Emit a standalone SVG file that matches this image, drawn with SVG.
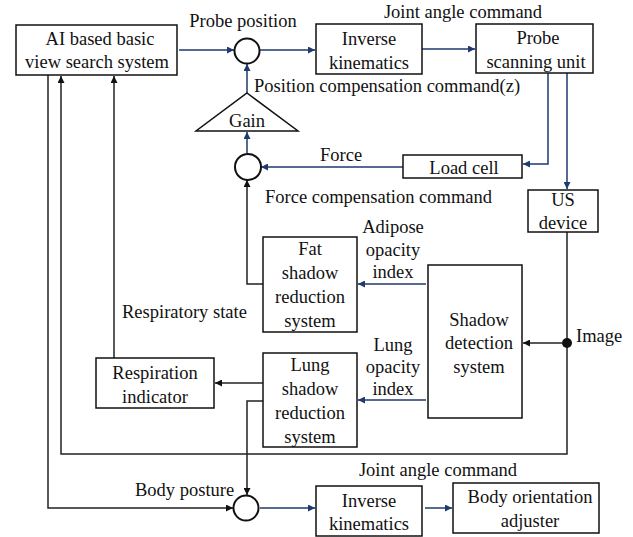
<svg xmlns="http://www.w3.org/2000/svg" width="633" height="537" viewBox="0 0 633 537">
<style>
text{font-family:"Liberation Serif","Times New Roman",serif;font-size:18.5px;fill:#111}
.m{text-anchor:middle}
.box{fill:#fff;stroke:#111;stroke-width:1.5}
.sum{fill:#fff;stroke:#111;stroke-width:2}
.n{fill:none;stroke:#1f3a6e;stroke-width:1.5}
.k{fill:none;stroke:#222;stroke-width:1.5}
</style>
<defs>
<marker id="an" viewBox="0 0 10 10" refX="10" refY="5" markerWidth="9" markerHeight="7" orient="auto" markerUnits="userSpaceOnUse"><path d="M0,0 L10,5 L0,10 z" fill="#1f3a6e"/></marker>
<marker id="ak" viewBox="0 0 10 10" refX="10" refY="5" markerWidth="9" markerHeight="7" orient="auto" markerUnits="userSpaceOnUse"><path d="M0,0 L10,5 L0,10 z" fill="#111"/></marker>
</defs>
<rect width="633" height="537" fill="#fff"/>
<g id="connectors">
<path class="n" d="M179,50 H234" marker-end="url(#an)"/>
<path class="n" d="M260,50 H315" marker-end="url(#an)"/>
<path class="n" d="M422,49 H475" marker-end="url(#an)"/>
<path class="n" d="M247,93 V64" marker-end="url(#an)"/>
<path class="n" d="M247,153 V132" marker-end="url(#an)"/>
<path class="n" d="M548,73 V164 H523" marker-end="url(#an)"/>
<path class="n" d="M403,167 H261" marker-end="url(#an)"/>
<path class="n" d="M567,73 V189" marker-end="url(#an)"/>
<path class="k" d="M263,284 H247 V180" marker-end="url(#ak)"/>
<path class="n" d="M426,284 H358" marker-end="url(#an)"/>
<path class="n" d="M426,400 H358" marker-end="url(#an)"/>
<path class="k" d="M567,232 V454 H61 V76" marker-end="url(#ak)"/>
<circle cx="567" cy="343" r="5" fill="#111"/>
<path class="k" d="M562,343 H523" marker-end="url(#ak)"/>
<path class="k" d="M114,358 V76" marker-end="url(#ak)"/>
<path class="k" d="M263,383 H215" marker-end="url(#ak)"/>
<path class="k" d="M263,401 H247 V495" marker-end="url(#ak)"/>
<path class="k" d="M48,75 V508 H233" marker-end="url(#ak)"/>
<path class="n" d="M260,508 H315" marker-end="url(#an)"/>
<path class="n" d="M425,508 H452" marker-end="url(#an)"/>
</g>
<g id="ai">
<rect class="box" x="16" y="25" width="161" height="50"/>
<text class="m" x="100" y="45">AI based basic</text>
<text class="m" x="97" y="68">view search system</text>
</g>
<g id="sum1"><circle class="sum" cx="247" cy="51" r="12.5"/></g>
<g id="ik1">
<rect class="box" x="316" y="24" width="106" height="50"/>
<text class="m" x="369" y="45">Inverse</text>
<text class="m" x="369" y="69">kinematics</text>
</g>
<g id="psu">
<rect class="box" x="476" y="24" width="117" height="49"/>
<text class="m" x="538" y="44">Probe</text>
<text class="m" x="536" y="68">scanning unit</text>
</g>
<g id="gain">
<polygon class="box" points="247,93 298,131 196,131"/>
<text class="m" x="247" y="127">Gain</text>
</g>
<g id="sum2"><circle class="sum" cx="248" cy="167" r="13"/></g>
<g id="loadcell">
<rect class="box" x="403" y="155" width="119" height="23"/>
<text class="m" x="464" y="174">Load cell</text>
</g>
<g id="us">
<rect class="box" x="528" y="190" width="70" height="42"/>
<text class="m" x="563" y="206">US</text>
<text class="m" x="563" y="229">device</text>
</g>
<g id="fat">
<rect class="box" x="263" y="237" width="94" height="95"/>
<text class="m" x="310" y="255">Fat</text>
<text class="m" x="310" y="279">shadow</text>
<text class="m" x="310" y="303">reduction</text>
<text class="m" x="310" y="327">system</text>
</g>
<g id="shadow">
<rect class="box" x="428" y="265" width="94" height="153"/>
<text class="m" x="479" y="326">Shadow</text>
<text class="m" x="479" y="349">detection</text>
<text class="m" x="479" y="373">system</text>
</g>
<g id="lung">
<rect class="box" x="263" y="353" width="94" height="94"/>
<text class="m" x="310" y="371">Lung</text>
<text class="m" x="310" y="395">shadow</text>
<text class="m" x="310" y="419">reduction</text>
<text class="m" x="310" y="443">system</text>
</g>
<g id="resp">
<rect class="box" x="96" y="358" width="118" height="50"/>
<text class="m" x="155" y="379">Respiration</text>
<text class="m" x="155" y="403">indicator</text>
</g>
<g id="sum3"><circle class="sum" cx="246" cy="508" r="12.5"/></g>
<g id="ik2">
<rect class="box" x="316" y="486" width="106" height="50"/>
<text class="m" x="369" y="507">Inverse</text>
<text class="m" x="369" y="530">kinematics</text>
</g>
<g id="boa">
<rect class="box" x="453" y="483" width="146" height="50"/>
<text class="m" x="530" y="503">Body orientation</text>
<text class="m" x="530" y="527">adjuster</text>
</g>
<g id="labels">
<text class="m" x="243" y="27">Probe position</text>
<text class="m" x="463" y="18">Joint angle command</text>
<text x="254" y="92">Position compensation command(z)</text>
<text x="320" y="161">Force</text>
<text x="265" y="203">Force compensation command</text>
<text class="m" x="393" y="233">Adipose</text>
<text class="m" x="393" y="256">opacity</text>
<text class="m" x="393" y="278">index</text>
<text class="m" x="393" y="351">Lung</text>
<text class="m" x="393" y="373">opacity</text>
<text class="m" x="393" y="395">index</text>
<text x="576" y="342">Image</text>
<text x="122" y="318">Respiratory state</text>
<text x="135" y="496">Body posture</text>
<text class="m" x="438" y="476">Joint angle command</text>
</g>
</svg>
